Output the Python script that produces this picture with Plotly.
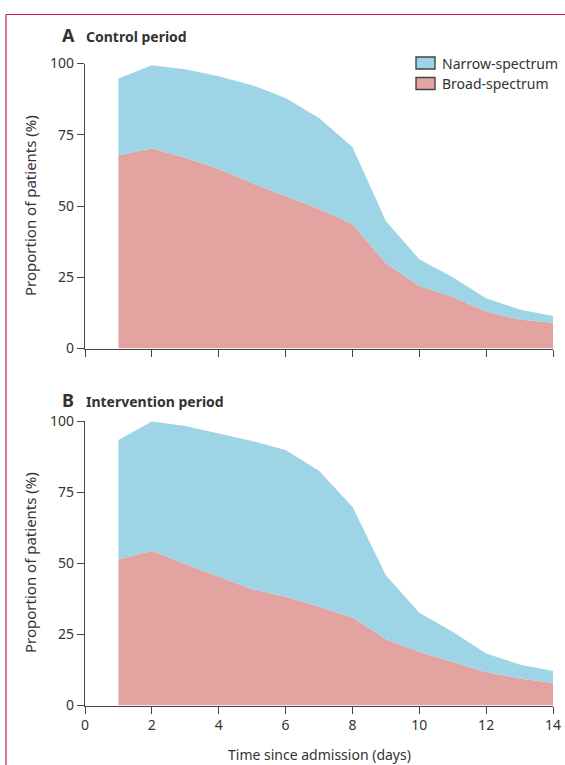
import plotly.graph_objects as go

days = [1, 2, 3, 4, 5, 6, 7, 8, 9, 10, 11, 12, 13, 14]

# Panel A: control period (% of patients)
control_broad = [67.8, 70.3, 66.9, 63.1, 58.0, 53.6, 49.0, 43.7, 29.9, 21.9, 18.2, 13.0, 10.2, 9.0]
control_narrow = [26.9, 29.1, 31.1, 32.4, 34.4, 34.3, 31.9, 27.0, 14.8, 9.4, 6.8, 4.6, 3.5, 2.4]

# Panel B: intervention period (% of patients)
interv_broad = [51.3, 54.4, 49.7, 45.3, 40.9, 38.2, 34.7, 30.9, 23.4, 18.8, 15.4, 11.8, 9.5, 8.0]
interv_narrow = [42.0, 45.4, 48.5, 50.4, 52.1, 51.6, 47.8, 39.0, 22.4, 13.8, 10.5, 6.5, 4.9, 4.1]

x_ticks = [0, 2, 4, 6, 8, 10, 12, 14]
y_ticks = [0, 25, 50, 75, 100]

W, H = 565, 765
ML, MR, MT, MB = 85, 12, 0, 0


def fx(p):
    return (p - ML) / (W - ML - MR)


def fy(p):
    return 1 - (p - MT) / (H - MT - MB)


BLUE = "#9DD5E7"
PINK = "#E2A3A1"
TXT = "#333333"
AX = "#444444"
FONT = "Noto Sans"

fig = go.Figure()

for xa, ya, broad, narrow, grp in [("x", "y", control_broad, control_narrow, "a"),
                                   ("x2", "y2", interv_broad, interv_narrow, "b")]:
    fig.add_trace(go.Scatter(x=days, y=broad, xaxis=xa, yaxis=ya, stackgroup=grp,
                             mode="lines", line=dict(width=0, color=PINK), fillcolor=PINK,
                             name="Broad-spectrum", showlegend=False, hoverinfo="skip"))
    fig.add_trace(go.Scatter(x=days, y=narrow, xaxis=xa, yaxis=ya, stackgroup=grp,
                             mode="lines", line=dict(width=0, color=BLUE), fillcolor=BLUE,
                             name="Narrow-spectrum", showlegend=False, hoverinfo="skip"))

axis_common = dict(showline=True, linecolor=AX, linewidth=1.3, ticks="outside",
                   ticklen=7, tickwidth=1.3, tickcolor=AX, showgrid=False, zeroline=False,
                   automargin=False, tickfont=dict(family=FONT, size=14, color=TXT))

fig.update_layout(
    template="none",
    width=W, height=H,
    margin=dict(l=ML, r=MR, t=MT, b=MB),
    paper_bgcolor="white", plot_bgcolor="rgba(0,0,0,0)",
    showlegend=False,
    xaxis=dict(domain=[0, 1], range=[0, 14], tickvals=x_ticks, showticklabels=False,
               anchor="y", **axis_common),
    yaxis=dict(domain=[fy(348.5), fy(63.5)], range=[0, 100], tickvals=y_ticks,
               anchor="x", **axis_common),
    xaxis2=dict(domain=[0, 1], range=[0, 14], tickvals=x_ticks, anchor="y2", **axis_common),
    yaxis2=dict(domain=[fy(705.5), fy(421)], range=[0, 100], tickvals=y_ticks,
                anchor="x2", **axis_common),
)

ann = []


def add_text(text, xp, yp, size, bold=False, xanchor="left", angle=0):
    ann.append(dict(text=f"<b>{text}</b>" if bold else text, x=fx(xp), y=fy(yp),
                    xref="paper", yref="paper", xanchor=xanchor, yanchor="middle",
                    showarrow=False, textangle=angle,
                    font=dict(family=FONT, size=size, color=TXT)))


add_text("A", 60, 35, 18, bold=True)
add_text("Control period", 84, 36, 14, bold=True)
add_text("B", 60, 400, 18, bold=True)
add_text("Intervention period", 84, 401, 14, bold=True)
add_text("Proportion of patients (%)", 30, 206, 15, xanchor="center", angle=-90)
add_text("Proportion of patients (%)", 30, 563, 15, xanchor="center", angle=-90)
add_text("Time since admission (days)", 319, 754, 14, xanchor="center")
add_text("Narrow-spectrum", 440, 63, 14)
add_text("Broad-spectrum", 440, 83, 14)
fig.update_layout(annotations=ann)

shapes = []
# legend swatches
for top, color in [(57, BLUE), (77.5, PINK)]:
    shapes.append(dict(type="rect", xref="paper", yref="paper",
                       x0=fx(416), x1=fx(435), y0=fy(top + 12), y1=fy(top),
                       fillcolor=color, line=dict(color=AX, width=1.4)))
# frame
FRAME = "#C8194B"
shapes.append(dict(type="line", xref="paper", yref="paper", x0=fx(6), x1=fx(570),
                   y0=fy(14.5), y1=fy(14.5), line=dict(color=FRAME, width=1.2)))
shapes.append(dict(type="line", xref="paper", yref="paper", x0=fx(6), x1=fx(6),
                   y0=fy(14.5), y1=fy(770), line=dict(color=FRAME, width=1.2)))
fig.update_layout(shapes=shapes)

fig.write_html("out.html", config={"displayModeBar": False},
               post_script="document.body.style.margin='0';document.body.style.overflow='hidden';")
